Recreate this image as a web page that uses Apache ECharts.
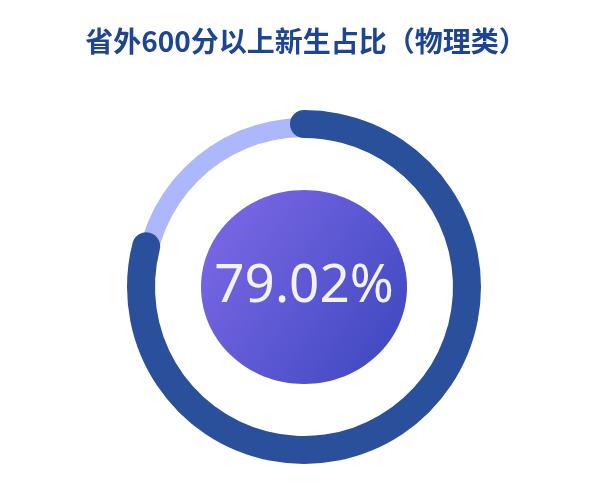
<!DOCTYPE html>
<html>
<head>
<meta charset="utf-8">
<script src="https://cdn.jsdelivr.net/npm/echarts@6/dist/echarts.min.js"></script>
<style>
  html, body { margin: 0; padding: 0; background: #fff; }
  #main { width: 612px; height: 484px; }
</style>
</head>
<body>
<div id="main"></div>
<script>
// 数据
const titleText = '省外600分以上新生占比（物理类）'
const names = ['物理类']
const values = [79.02]

const chart = echarts.init(document.getElementById('main'))
const cx = 304
const cy = 287
const optionData = {
  title: {
    text: titleText,
    left: 'center',
    top: 22,
    textStyle: {
      color: '#1d4591',
      fontSize: 28,
      fontWeight: 'bold',
      fontFamily: 'Noto Sans CJK SC'
    }
  },
  // 中间的椭圆底色
  graphic: [{
    type: 'ellipse',
    silent: true,
    z: 0,
    shape: { cx: cx, cy: cy, rx: 103, ry: 97 },
    style: {
      fill: new echarts.graphic.LinearGradient(0, 0.2, 1, 0.9, [
        { offset: 0, color: '#7b68e6' },
        { offset: 1, color: '#3d47bf' }
      ])
    }
  }],
  series: [
    {
      // 背景轨道
      type: 'gauge',
      center: [cx, cy],
      radius: 169,
      startAngle: 90,
      endAngle: -270,
      min: 0,
      max: 100,
      pointer: { show: false },
      axisLine: {
        lineStyle: { width: 19, color: [[1, '#adb7fb']] }
      },
      axisTick: { show: false },
      splitLine: { show: false },
      axisLabel: { show: false },
      title: { show: false },
      detail: { show: false },
      data: []
    },
    {
      type: 'gauge',
      center: [cx, cy],
      radius: 177,
      startAngle: 90,
      endAngle: -270,
      min: 0,
      max: 100,
      pointer: { show: false },
      progress: {
        show: true,
        width: 28,
        roundCap: true,
        itemStyle: { color: '#2a4f9b' }
      },
      axisLine: {
        lineStyle: { width: 28, color: [[1, 'rgba(0,0,0,0)']] }
      },
      axisTick: { show: false },
      splitLine: { show: false },
      axisLabel: { show: false },
      title: { show: false },
      detail: {
        show: true,
        offsetCenter: [0, 0],
        valueAnimation: false,
        formatter: function (v) { return v.toFixed(2) + '%' },
        color: '#f2f2f2',
        fontSize: 53,
        fontWeight: 'normal',
        fontFamily: 'Noto Sans'
      },
      data: [{ value: values[0], name: names[0] }]
    }
  ]
}
chart.setOption(optionData)
</script>
</body>
</html>
